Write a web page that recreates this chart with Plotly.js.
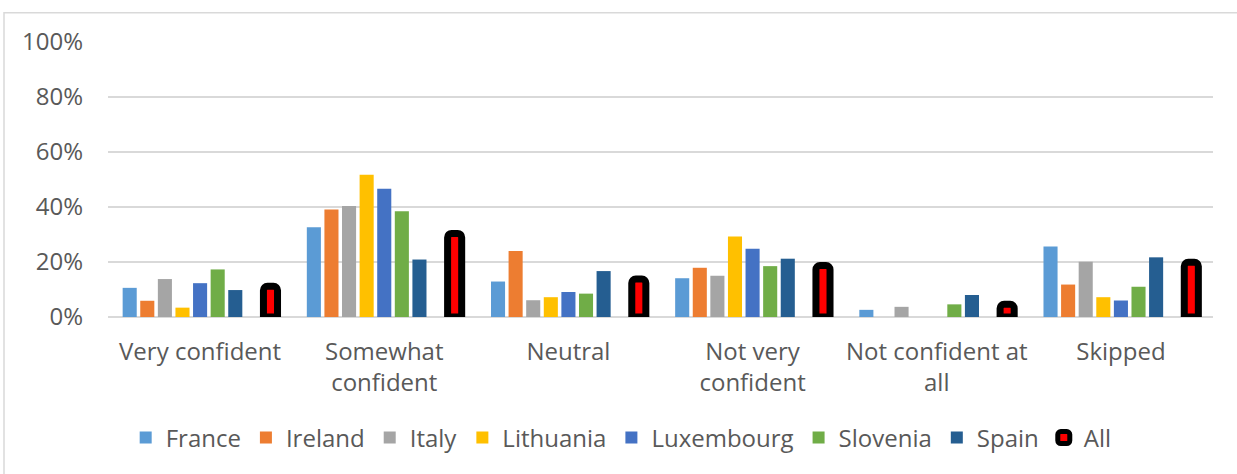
<!DOCTYPE html>
<html>
<head>
<meta charset="utf-8">
<script src="https://cdn.plot.ly/plotly-3.0.1.min.js"></script>
<style>html,body{margin:0;padding:0;background:#fff;} #chart{width:1237px;height:474px;}</style>
</head>
<body>
<div id="chart"></div>
<script>
const categories = ["Very confident", "Somewhat<br>confident", "Neutral", "Not very<br>confident", "Not confident at<br>all", "Skipped"];
const seriesNames = ["France", "Ireland", "Italy", "Lithuania", "Luxembourg", "Slovenia", "Spain"];
const France     = [0.106, 0.326, 0.129, 0.141, 0.026, 0.256];
const Ireland    = [0.059, 0.391, 0.240, 0.179, 0,     0.118];
const Italy      = [0.138, 0.404, 0.061, 0.150, 0.037, 0.201];
const Lithuania  = [0.034, 0.517, 0.072, 0.293, 0,     0.072];
const Luxembourg = [0.123, 0.466, 0.091, 0.248, 0,     0.060];
const Slovenia   = [0.173, 0.385, 0.085, 0.185, 0.046, 0.110];
const Spain      = [0.098, 0.209, 0.167, 0.212, 0.080, 0.217];
const All        = [0.112, 0.304, 0.138, 0.187, 0.046, 0.199];
const yTicks = [0, 0.2, 0.4, 0.6, 0.8, 1.0];
const yTickLabels = ["0%", "20%", "40%", "60%", "80%", "100%"];

const colors = ["#5B9BD5", "#ED7D31", "#A5A5A5", "#FFC000", "#4472C4", "#70AD47", "#255E91"];
const seriesValues = [France, Ireland, Italy, Lithuania, Luxembourg, Slovenia, Spain];

const traces = seriesValues.map((vals, i) => ({
  type: "bar", name: seriesNames[i], x: categories, y: vals,
  marker: {color: colors[i], line: {width: 0}}
}));
// empty slot between Spain and All
traces.push({type: "bar", name: "", x: categories, y: categories.map(() => null), showlegend: false, hoverinfo: "skip"});
traces.push({
  type: "bar", name: "All", x: categories, y: All,
  marker: {color: "#FF0000", line: {color: "#000000", width: 7}, cornerradius: 4}
});

const font = {family: "Open Sans, sans-serif", size: 24, color: "#595959"};

const layout = {
  width: 1237, height: 474,
  margin: {l: 108, r: 24, t: 42, b: 157},
  paper_bgcolor: "#ffffff", plot_bgcolor: "#ffffff",
  font: font,
  barmode: "group", bargap: 0.14, bargroupgap: 0.2,
  showlegend: true,
  legend: {orientation: "h", x: 0.016, xanchor: "left", y: -0.44, yanchor: "middle",
           font: font, traceorder: "normal", itemclick: false},
  xaxis: {type: "category", showgrid: false, zeroline: false, showline: false,
          ticks: "", tickfont: font, tickangle: 0, automargin: false, ticklabelstandoff: 18},
  yaxis: {range: [0, 1.0], tickvals: yTicks, ticktext: yTickLabels, showgrid: true,
          gridcolor: "#D9D9D9", gridwidth: 1.5, zeroline: true, zerolinecolor: "#D9D9D9", zerolinewidth: 1.5,
          showline: false, ticks: "", tickfont: font, ticklabelstandoff: 24, automargin: false},
  shapes: [{type: "rect", xref: "paper", yref: "paper",
            x0: (4 - 108) / 1105, x1: (1240 - 108) / 1105,
            y0: (316.7 - 480) / 274.4, y1: 1 + (42.3 - 13) / 274.4,
            line: {color: "#D9D9D9", width: 1.5}, fillcolor: "rgba(0,0,0,0)", layer: "below"}]
};

Plotly.newPlot("chart", traces, layout, {displayModeBar: false, staticPlot: true});
</script>
</body>
</html>
